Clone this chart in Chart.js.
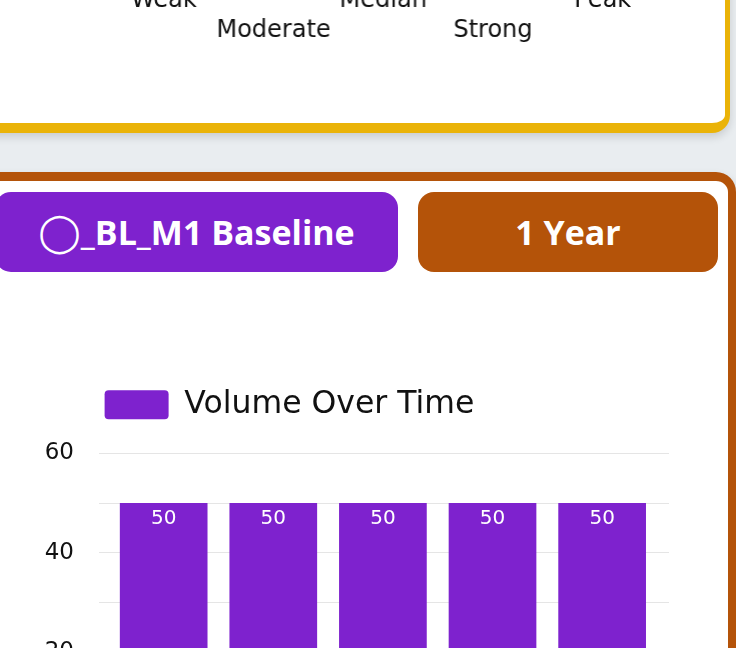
<!DOCTYPE html>
<html>
<head>
<meta charset="utf-8">
<script src="https://cdn.jsdelivr.net/npm/chart.js@4.4.1/dist/chart.umd.min.js"></script>
<style>
  html, body { margin: 0; padding: 0; }
  body { width: 736px; height: 648px; overflow: hidden; position: relative; background: #e9edf0; font-family: "DejaVu Sans", sans-serif; }
  .card { position: absolute; box-sizing: border-box; background: #fff; box-shadow: 0 4px 8px rgba(0,0,0,0.14); }
  #levelCard { left: -40px; top: -400px; width: 770px; height: 533px; border: 5px solid #eab308; border-bottom-width: 10px; border-radius: 18px; }
  #volumeCard { left: -40px; top: 172px; width: 776px; height: 700px; border: 8px solid #b45309; border-top-width: 9px; border-radius: 20px; }
  .btn { position: absolute; top: 192px; height: 80px; border-radius: 16px; color: #fff; font: 700 34px "Open Sans", sans-serif; display: flex; align-items: center; justify-content: center; white-space: nowrap; }
  #seriesBtn { left: -5px; width: 403px; background: #7e22ce; }
  #rangeBtn { left: 418px; width: 300px; background: #b45309; }
  .ring { font-family: "DejaVu Sans", sans-serif; font-weight: 400; font-size: 38px; }
  .chartBox { position: absolute; }
  #levelBox { left: 109.25px; width: 547.5px; top: -251px; height: 300px; }
  #volumeBox { left: -90px; width: 759px; top: 379px; height: 411px; }
</style>
</head>
<body>
<div class="card" id="levelCard"></div>
<div class="card" id="volumeCard"></div>
<div class="btn" id="seriesBtn"><span class="ring">◯</span>_BL_M1 Baseline</div>
<div class="btn" id="rangeBtn">1 Year</div>
<div class="chartBox" id="levelBox"><canvas id="levelChart"></canvas></div>
<div class="chartBox" id="volumeBox"><canvas id="volumeChart"></canvas></div>
<script>
const levelLabels = ['Weak', 'Moderate', 'Median', 'Strong', 'Peak'];
const volumeLabel = 'Volume Over Time';
const volumeValues = [50, 50, 50, 50, 50];
const yTicks = [0, 20, 40, 60];

Chart.defaults.font.family = '"DejaVu Sans", sans-serif';
Chart.defaults.color = '#111';

// top card: only the staggered axis labels of that chart show here
new Chart(document.getElementById('levelChart'), {
    type: 'bar',
    data: {
        labels: levelLabels.map((l, i) => i % 2 ? ['', l] : [l, '']),
        datasets: []
    },
    options: {
        responsive: true,
        maintainAspectRatio: false,
        animation: false,
        plugins: { legend: { display: false }, tooltip: { enabled: false } },
        scales: {
            x: {
                grid: { display: false, drawTicks: false },
                border: { display: false },
                ticks: { maxRotation: 0, autoSkip: false, padding: 3, color: '#111', font: { size: 24, lineHeight: 1.27 } }
            },
            y: { display: false }
        }
    }
});

// white value on top of each bar
const barValues = {
    id: 'barValues',
    afterDatasetsDraw(chart) {
        const ctx = chart.ctx;
        chart.data.datasets.forEach((ds, di) => {
            chart.getDatasetMeta(di).data.forEach((bar, i) => {
                ctx.save();
                ctx.fillStyle = '#fff';
                ctx.font = '20px "DejaVu Sans", sans-serif';
                ctx.textAlign = 'center';
                ctx.textBaseline = 'top';
                ctx.fillText(ds.data[i].y, bar.x, bar.y + 6);
                ctx.restore();
            });
        });
    }
};

// extra room under the legend
const legendGap = {
    id: 'legendGap',
    beforeInit(chart) {
        const fit = chart.legend.fit;
        chart.legend.fit = function () {
            fit.call(this);
            this.height += 23;
        };
    }
};

new Chart(document.getElementById('volumeChart'), {
    type: 'bar',
    data: {
        datasets: [{
            label: volumeLabel,
            data: volumeValues.map((v, i) => ({ x: i, y: v })),
            backgroundColor: '#7e22ce',
            borderRadius: 0,
            barPercentage: 1,
            categoryPercentage: 0.8
        }]
    },
    options: {
        responsive: true,
        maintainAspectRatio: false,
        animation: false,
        plugins: {
            legend: {
                labels: { boxWidth: 64, boxHeight: 29, useBorderRadius: true, borderRadius: 4, color: '#111', font: { size: 31.5 } }
            },
            tooltip: { enabled: false }
        },
        scales: {
            x: {
                type: 'linear',
                display: false,
                offset: false,
                bounds: 'data',
                grid: { offset: false },
                min: -0.59,
                max: 4.61,
                afterBuildTicks: s => { s.ticks = volumeValues.map((v, i) => ({ value: i })); }
            },
            y: {
                min: 0,
                max: 60,
                afterFit: s => { s.width = 189; },
                border: { display: false },
                grid: { drawTicks: false, color: 'rgba(0,0,0,0.1)' },
                ticks: {
                    stepSize: 10,
                    padding: 25,
                    color: '#111',
                    font: { size: 23 },
                    callback: v => yTicks.includes(v) ? v : ''
                }
            }
        }
    },
    plugins: [barValues, legendGap]
});
</script>
</body>
</html>
